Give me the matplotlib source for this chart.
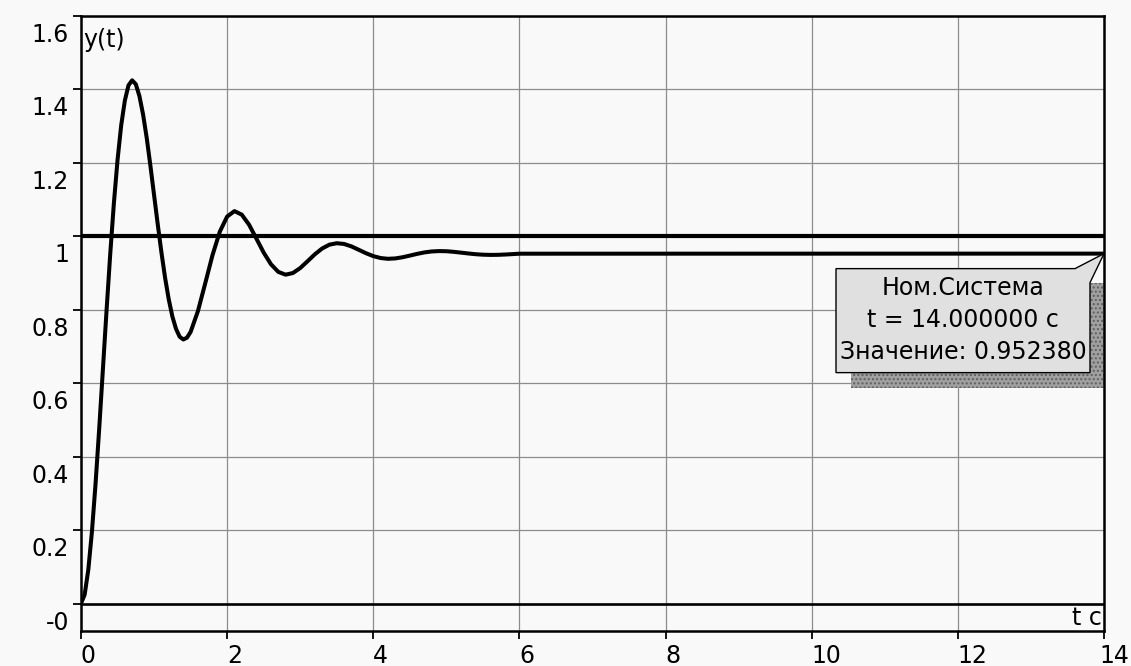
import matplotlib
matplotlib.use("Agg")
import matplotlib.pyplot as plt
from matplotlib import transforms as mtransforms
from matplotlib.patches import Polygon

plt.rcParams['font.family'] = ['DejaVu Sans']

# ---- data ----
t_vals = [0.00, 0.05, 0.10, 0.15, 0.20, 0.25, 0.30, 0.35, 0.40, 0.45,
          0.50, 0.55, 0.60, 0.65, 0.70, 0.75, 0.80, 0.85, 0.90, 0.95,
          1.00, 1.05, 1.10, 1.15, 1.20, 1.25, 1.30, 1.35, 1.40, 1.45,
          1.50, 1.6, 1.7, 1.8, 1.9, 2.0, 2.1, 2.2, 2.3, 2.4,
          2.5, 2.6, 2.7, 2.8, 2.9, 3.0, 3.1, 3.2, 3.3, 3.4,
          3.5, 3.6, 3.7, 3.8, 3.9, 4.0, 4.1, 4.2, 4.3, 4.4,
          4.5, 4.6, 4.7, 4.8, 4.9, 5.0, 5.1, 5.2, 5.3, 5.4,
          5.5, 5.6, 5.7, 5.8, 5.9, 6.0, 14.0]
y_vals = [0.0000, 0.0241, 0.0920, 0.1963, 0.3284, 0.4786, 0.6384, 0.7986, 0.9512, 1.0897,
          1.2073, 1.3015, 1.3689, 1.4105, 1.4241, 1.4135, 1.3809, 1.3306, 1.2665, 1.1913,
          1.1118, 1.0325, 0.9567, 0.8876, 0.8288, 0.7816, 0.7477, 0.7262, 0.7187, 0.7235,
          0.7392, 0.7958, 0.8714, 0.9485, 1.0123, 1.0533, 1.0681, 1.0585, 1.0311, 0.9934,
          0.9552, 0.9234, 0.9027, 0.8951, 0.8996, 0.9131, 0.9316, 0.9505, 0.9664, 0.9768,
          0.9807, 0.9787, 0.9721, 0.9629, 0.9535, 0.9456, 0.9404, 0.9383, 0.9393, 0.9425,
          0.9470, 0.9517, 0.9557, 0.9583, 0.9593, 0.9589, 0.9573, 0.9551, 0.9528, 0.9508,
          0.9495, 0.9489, 0.9491, 0.9499, 0.9510, 0.9522, 0.9524]
ref_level = 1.0

x_ticks = [0, 2, 4, 6, 8, 10, 12, 14]
x_tick_labels = ["0", "2", "4", "6", "8", "10", "12", "14"]
y_ticks = [0.0, 0.2, 0.4, 0.6, 0.8, 1.0, 1.2, 1.4, 1.6]
y_tick_labels = ["-0", "0.2", "0.4", "0.6", "0.8", "1", "1.2", "1.4", "1.6"]
y_label = "y(t)"
x_label = "t c"

marker_t = 14.0
marker_y = 0.952380
tooltip_lines = ["Ном.Система", "t = 14.000000 c", "Значение: 0.952380"]

# ---- figure ----
W, H = 1131, 666
DPI = 100
fig = plt.figure(figsize=(W / DPI, H / DPI), dpi=DPI)
bg = '#f9f9f9'
fig.patch.set_facecolor(bg)

left_px, right_px, top_px, bottom_px = 81, 1104, 15.7, 631
ax = fig.add_axes([left_px / W, (H - bottom_px) / H,
                   (right_px - left_px) / W, (bottom_px - top_px) / H])
ax.set_facecolor(bg)
ax.set_xlim(0, 14)
ax.set_ylim(-0.0748, 1.6)

ax.set_xticks(x_ticks)
ax.set_yticks(y_ticks)
ax.tick_params(labelbottom=False, labelleft=False, direction='out',
               length=5.5, width=1.3, color='black')
ax.grid(True, color='#8c8c8c', lw=0.9, zorder=1)
ax.set_axisbelow(True)
for sp in ax.spines.values():
    sp.set_linewidth(1.8)
    sp.set_color('black')
    sp.set_zorder(10)

ax.axhline(0, color='black', lw=1.9, zorder=3)
ax.axhline(ref_level, color='black', lw=3.0, zorder=3)
ax.plot(t_vals, y_vals, color='black', lw=2.9, zorder=4,
        solid_joinstyle='round', solid_capstyle='round')

px = fig.dpi_scale_trans
FS = 17

# y tick labels
for v, lab in zip(y_ticks, y_tick_labels):
    ax.text(0, v, lab, transform=ax.get_yaxis_transform()
            + mtransforms.ScaledTranslation(-12 / DPI, -26 / DPI, px),
            ha='right', va='baseline', fontsize=FS, clip_on=False)
# x tick labels (the last one is kept inside the picture edge)
for i, (v, lab) in enumerate(zip(x_ticks, x_tick_labels)):
    dx = 0 if i < len(x_ticks) - 1 else -5
    ax.text(v, 0, lab, transform=ax.get_xaxis_transform()
            + mtransforms.ScaledTranslation(dx / DPI, -32 / DPI, px),
            ha='left', va='baseline', fontsize=FS, clip_on=False)

# axis labels inside the plot
ax.text(0, 1, y_label, transform=ax.transAxes
        + mtransforms.ScaledTranslation(2 / DPI, -31 / DPI, px),
        ha='left', va='baseline', fontsize=FS)
ax.text(1, 0, x_label, transform=ax.transAxes
        + mtransforms.ScaledTranslation(-2 / DPI, 6 / DPI, px),
        ha='right', va='baseline', fontsize=FS)

# tooltip (pixel offsets from the marked point, y downward)
s = fig.dpi / 100.0
T = mtransforms.Affine2D().scale(s, -s) + \
    mtransforms.ScaledTranslation(marker_t, marker_y, ax.transData)
shadow = Polygon([(-253, 29), (0, 29), (0, 134), (-253, 134)], closed=True,
                 transform=T, facecolor='#a0a0a0', edgecolor='#606060',
                 hatch='....', lw=0, clip_on=False, zorder=6)
ax.add_patch(shadow)
box = Polygon([(-268, 15), (-29, 15), (0, 0), (-14, 29), (-14, 119), (-268, 119)],
              closed=True, transform=T, facecolor='#e0e0e0', edgecolor='black',
              lw=1.0, clip_on=False, zorder=7)
ax.add_patch(box)
for i, line in enumerate(tooltip_lines):
    ax.text(-141, 41 + 32 * i, line, transform=T, ha='center', va='baseline',
            fontsize=FS, zorder=8, clip_on=False)

fig.savefig('out.png', dpi=DPI, facecolor=bg)
